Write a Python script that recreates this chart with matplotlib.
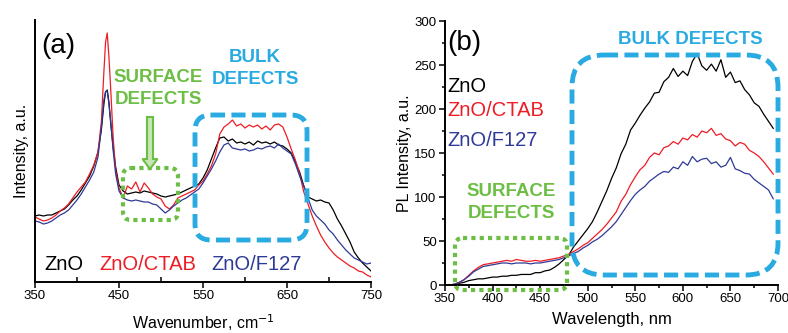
import matplotlib
matplotlib.use("Agg")
import matplotlib.pyplot as plt
from matplotlib.ticker import MultipleLocator
from matplotlib.patches import FancyBboxPatch, FancyArrow

plt.rcParams["font.family"] = ["Liberation Sans", "DejaVu Sans"]

# ---- panel (a): Raman-like spectra ----
wn = [350, 355, 360, 365, 370, 375, 380, 385, 390, 395, 400, 405, 410, 415, 420, 425,
      429, 432, 434, 436, 438, 440, 443, 446,
      450, 455, 460, 465, 470, 475, 480, 485, 490, 495, 500, 505, 510, 515, 520, 525,
      530, 535, 540, 545, 550, 555, 560, 565, 570, 575, 580, 585, 590, 595, 600, 605,
      610, 615, 620, 625, 630, 635, 640, 645, 650, 655, 660, 665, 670, 675, 680, 685,
      690, 695, 700, 705, 710, 715, 720, 725, 730, 735, 740, 745, 750]
a_zno = [66, 67, 66, 67, 67, 69, 71, 73, 77, 82, 86, 92, 99, 106, 116, 130,
         152, 178, 190, 192, 180, 160, 135, 115,
         97, 91, 88, 89, 90, 89, 91, 90, 89, 88, 86, 85, 86, 87, 88, 90,
         92, 94, 96, 98, 104, 112, 123, 134, 144, 145, 141, 143, 139, 140, 138, 140,
         137, 141, 139, 140, 138, 140, 137, 136, 133, 129, 120, 110, 96, 85, 83, 81,
         82, 80, 79, 72, 63, 56, 48, 40, 30, 24, 19, 15, 11]
a_ctab = [65, 63, 61, 62, 64, 67, 71, 74, 78, 84, 90, 95, 100, 108, 117, 130,
          160, 210, 240, 249, 225, 195, 145, 112,
          94, 84, 96, 93, 100, 90, 99, 94, 88, 85, 83, 76, 73, 77, 84, 86,
          88, 90, 92, 97, 101, 108, 116, 128, 148, 155, 158, 162, 156, 158, 154, 157,
          155, 157, 153, 156, 152, 157, 158, 155, 145, 133, 122, 108, 90, 78, 66, 56,
          47, 40, 34, 29, 25, 22, 19, 16, 14, 11, 10, 7, 5]
a_f127 = [61, 60, 58, 59, 61, 64, 67, 69, 72, 77, 82, 88, 95, 102, 110, 125,
          155, 182, 190, 191, 178, 162, 132, 108,
          91, 84, 82, 81, 82, 81, 80, 80, 78, 77, 73, 69, 72, 76, 79, 82,
          84, 87, 90, 93, 99, 106, 113, 121, 130, 137, 139, 134, 133, 132, 133, 131,
          132, 134, 133, 135, 136, 134, 138, 134, 131, 128, 118, 106, 96, 84, 72, 66,
          62, 58, 52, 48, 42, 37, 32, 28, 24, 22, 20, 18, 19]
a_ticks = [350, 450, 550, 650, 750]
a_minor = [400, 500, 600, 700]

# ---- panel (b): PL spectra ----
nm = [350, 355, 360, 365, 370, 375, 380, 385, 390, 395, 400, 405, 410, 415, 420, 425,
      430, 435, 440, 445, 450, 455, 460, 465, 470, 475, 480, 485, 490, 495, 500, 505,
      510, 515, 520, 525, 530, 535, 540, 545, 550, 555, 560, 565, 570, 575, 580, 585,
      590, 595, 600, 605, 610, 615, 620, 625, 630, 635, 640, 645, 650, 655, 660, 665,
      670, 675, 680, 685, 690, 695]
b_zno = [0, 0, 0, 2, 3, 5, 6, 7, 7, 8, 9, 9, 10, 10, 11, 11,
         12, 12, 12, 14, 14, 16, 17, 20, 24, 29, 34, 43, 50, 57, 64, 72,
         83, 95, 107, 121, 133, 149, 160, 176, 184, 193, 201, 208, 218, 219, 231, 236,
         246, 237, 243, 238, 254, 263, 249, 244, 251, 243, 256, 236, 242, 230, 232, 222,
         216, 207, 203, 194, 186, 178]
b_ctab = [0, 0, 1, 3, 6, 11, 16, 20, 23, 24, 25, 26, 27, 28, 27, 29,
          28, 27, 27, 28, 27, 28, 29, 30, 31, 33, 35, 38, 41, 45, 48, 53,
          58, 63, 69, 76, 83, 95, 103, 114, 123, 131, 136, 145, 150, 148, 156, 158,
          163, 160, 167, 165, 171, 168, 175, 173, 178, 170, 172, 166, 164, 158, 162, 160,
          153, 150, 146, 140, 133, 126]
b_f127 = [0, 0, 1, 3, 6, 10, 15, 18, 21, 22, 23, 24, 25, 25, 24, 25,
          25, 25, 24, 25, 25, 26, 27, 28, 29, 31, 33, 36, 38, 42, 45, 49,
          52, 56, 61, 66, 72, 80, 88, 96, 103, 108, 112, 118, 122, 126, 129, 128,
          134, 132, 140, 136, 146, 140, 143, 144, 138, 140, 134, 136, 145, 132, 130, 127,
          126, 120, 116, 112, 108, 98]

labels = ["ZnO", "ZnO/CTAB", "ZnO/F127"]
colors = ["#000000", "#ee1c25", "#2e3a97"]
light_blue = "#29abe2"
green = "#6dbe45"

W, H = 788, 333
fig = plt.figure(figsize=(W / 100, H / 100), dpi=100)

def px_axes(x0, y0, x1, y1):
    return fig.add_axes([x0 / W, 1 - y1 / H, (x1 - x0) / W, (y1 - y0) / H])

ax1 = px_axes(35, 20, 371, 282)
for y, c in zip([a_zno, a_ctab, a_f127], colors):
    ax1.plot(wn, y, color=c, lw=0.9)
ax1.set_xlim(350, 750)
ax1.set_ylim(0, 262)
ax1.set_yticks([])
ax1.set_xticks(a_ticks)
ax1.set_xticks(a_minor, minor=True)
ax1.set_xlabel("Wavenumber, cm$^{-1}$", fontsize=11.5, labelpad=7)
ax1.set_ylabel("Intensity, a.u.", fontsize=11.5, labelpad=4)

ax2 = px_axes(445, 21, 778, 285)
for y, c in zip([b_zno, b_ctab, b_f127], colors):
    ax2.plot(nm, y, color=c, lw=0.9)
ax2.set_xlim(350, 700)
ax2.set_ylim(0, 300)
ax2.xaxis.set_major_locator(MultipleLocator(50))
ax2.xaxis.set_minor_locator(MultipleLocator(25))
ax2.yaxis.set_major_locator(MultipleLocator(50))
ax2.yaxis.set_minor_locator(MultipleLocator(25))
ax2.set_xlabel("Wavelength, nm", fontsize=12, labelpad=5)
ax2.set_ylabel("PL Intensity, a.u.", fontsize=11.5, labelpad=2)

for ax in (ax1, ax2):
    ax.patch.set_alpha(0)
    for s in ("top", "right"):
        ax.spines[s].set_visible(False)
    for s in ("left", "bottom"):
        ax.spines[s].set_linewidth(1.4)
    ax.tick_params(which="major", direction="out", length=4, width=1.1, labelsize=9.5, pad=2)
    ax.tick_params(which="minor", direction="out", length=2.5, width=1.1)
ax1.tick_params(which="minor", direction="in", length=3.5)

# ---- overlay in pixel coordinates for annotations ----
ov = fig.add_axes([0, 0, 1, 1], zorder=10)
ov.set_xlim(0, W)
ov.set_ylim(H, 0)
ov.axis("off")

def rbox(x0, y0, x1, y1, r, color, ls, lw):
    p = FancyBboxPatch((x0, y0), x1 - x0, y1 - y0,
                       boxstyle=f"round,pad=0,rounding_size={r}",
                       fill=False, edgecolor=color, lw=lw, linestyle=ls,
                       capstyle="butt")
    ov.add_patch(p)

dashed = (0, (2.9, 1.3))
dotted = (0, (1, 1))
rbox(195, 115, 307, 240, 16, light_blue, dashed, 3.5)
rbox(123, 168, 178, 220, 8, green, dotted, 3)
rbox(572, 55, 778, 275, 32, light_blue, dashed, 3.5)
rbox(455, 238, 567, 290, 8, green, dotted, 3)

ov.add_patch(FancyArrow(150, 117, 0, 52, width=6, head_width=15, head_length=10,
                        length_includes_head=True, facecolor="#c8e6b4",
                        edgecolor=green, lw=1.5))

tb = dict(fontweight="bold", ha="center", va="center", fontsize=13.5)
ov.text(158, 78, "SURFACE", color=green, **tb)
ov.text(158, 100, "DEFECTS", color=green, **tb)
ov.text(255, 58, "BULK", color=light_blue, **tb)
ov.text(255, 80, "DEFECTS", color=light_blue, **tb)
ov.text(690, 40, "BULK DEFECTS", color=light_blue, **tb)
ov.text(511, 192, "SURFACE", color=green, **tb)
ov.text(511, 214, "DEFECTS", color=green, **tb)

ov.text(41, 46, "(a)", fontsize=20, ha="left", va="center")
ov.text(447, 43, "(b)", fontsize=20, ha="left", va="center")

for x, lab, c in zip([44, 99, 211], labels, colors):
    ov.text(x, 265, lab, color=c, fontsize=14.5, ha="left", va="center")
for y, lab, c in zip([86, 111, 141], labels, colors):
    ov.text(447, y, lab, color=c, fontsize=14.5, ha="left", va="center")

fig.savefig("out.png", dpi=100)
